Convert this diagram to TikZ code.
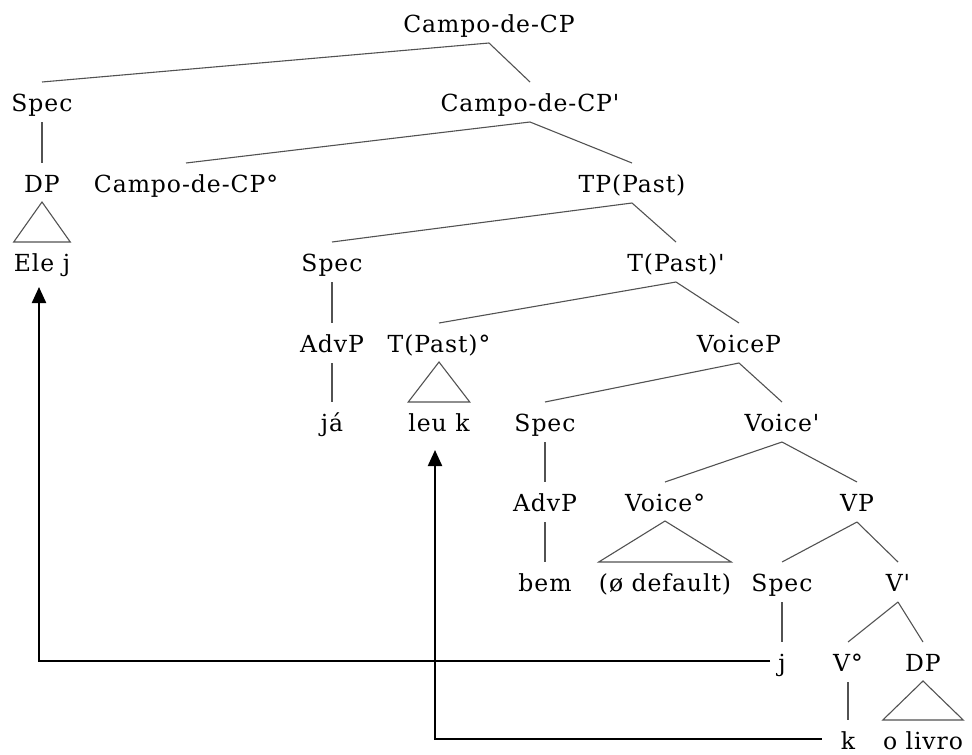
\documentclass[tikz,border=0pt]{standalone}
\usepackage{fontspec}
\setmainfont{DejaVu Serif}[Ligatures=TeXOff,LetterSpace=4]
\usetikzlibrary{arrows.meta}
\tikzset{
  lbl/.style={anchor=base,inner sep=0pt,font=\fontsize{23.5}{28}\selectfont},
  edge/.style={draw=black!68,line width=1.1pt},
  mvarrow/.style={draw=black,line width=2.2pt,-{Triangle[length=16pt,width=14pt]}}
}
\newcommand{\tredge}[2]{\draw[edge] ([yshift=-11pt]#1.base) -- ([yshift=29pt]#2.base);}
\newcommand{\trtri}[2]{\draw[edge] ([yshift=-10pt]#1.base) -- ([yshift=29pt]#2.base west) -- ([yshift=29pt]#2.base east) -- cycle;}
\begin{document}
\begin{tikzpicture}[x=1pt,y=-1pt]
\useasboundingbox (0,0) rectangle (972,755);
\node[lbl] (cp) at (489,32) {Campo-de-CP};
\node[lbl] (spec1) at (42,111) {Spec};
\node[lbl] (cpbar) at (530,111) {Campo-de-CP'};
\node[lbl] (dp1) at (42,192) {DP};
\node[lbl] (cphead) at (186,192) {Campo-de-CP°};
\node[lbl] (tp) at (632,192) {TP(Past)};
\node[lbl] (elej) at (42,271) {Ele j};
\node[lbl] (spec3) at (332,271) {Spec};
\node[lbl] (tbar) at (676,271) {T(Past)'};
\node[lbl] (advp1) at (332,352) {AdvP};
\node[lbl] (thead) at (439,352) {T(Past)°};
\node[lbl] (voicep) at (739,352) {VoiceP};
\node[lbl] (ja) at (332,431) {já};
\node[lbl] (leuk) at (439,431) {leu k};
\node[lbl] (spec5) at (545,431) {Spec};
\node[lbl] (voicebar) at (782,431) {Voice'};
\node[lbl] (advp2) at (545,511) {AdvP};
\node[lbl] (voicehead) at (665,511) {Voice°};
\node[lbl] (vp) at (857,511) {VP};
\node[lbl] (bem) at (545,591) {bem};
\node[lbl] (dflt) at (665,591) {(ø default)};
\node[lbl] (spec7) at (782,591) {Spec};
\node[lbl] (vbar) at (898,591) {V'};
\node[lbl] (jj) at (782,671) {j};
\node[lbl] (vhead) at (848,671) {V°};
\node[lbl] (dp2) at (923,671) {DP};
\node[lbl] (kk) at (848,749) {k};
\node[lbl] (olivro) at (923,749) {o livro};
\tredge{cp}{spec1}
\tredge{cp}{cpbar}
\tredge{spec1}{dp1}
\trtri{dp1}{elej}
\tredge{cpbar}{cphead}
\tredge{cpbar}{tp}
\tredge{tp}{spec3}
\tredge{tp}{tbar}
\tredge{spec3}{advp1}
\tredge{advp1}{ja}
\tredge{tbar}{thead}
\tredge{tbar}{voicep}
\trtri{thead}{leuk}
\tredge{voicep}{spec5}
\tredge{voicep}{voicebar}
\tredge{spec5}{advp2}
\tredge{advp2}{bem}
\tredge{voicebar}{voicehead}
\tredge{voicebar}{vp}
\trtri{voicehead}{dflt}
\tredge{vp}{spec7}
\tredge{vp}{vbar}
\tredge{spec7}{jj}
\tredge{vbar}{vhead}
\tredge{vbar}{dp2}
\tredge{vhead}{kk}
\trtri{dp2}{olivro}
\draw[mvarrow] ([xshift=-8pt,yshift=10pt]jj.base west) -| ([xshift=-3pt,yshift=-16pt]elej.base);
\draw[mvarrow] ([xshift=-19pt,yshift=10pt]kk.base west) -| ([xshift=-4pt,yshift=-19pt]leuk.base);
\end{tikzpicture}
\end{document}
